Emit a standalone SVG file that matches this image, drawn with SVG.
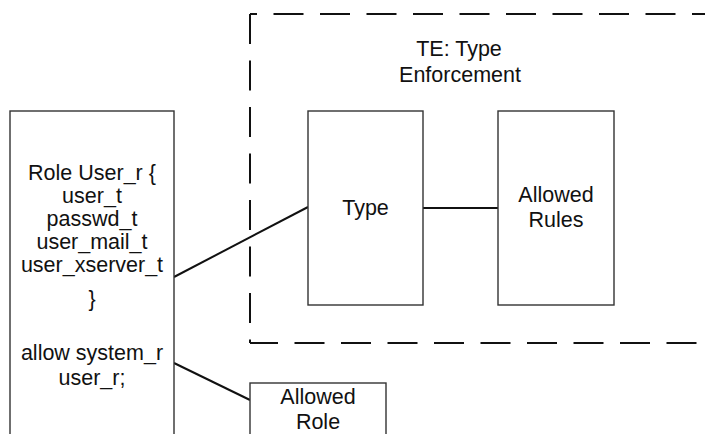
<svg xmlns="http://www.w3.org/2000/svg" width="705" height="434" viewBox="0 0 705 434">
<style>
.box{fill:#fff;stroke:#333;stroke-width:1.4}
.t{font-family:"Liberation Sans",Arial,sans-serif;font-size:21.5px;fill:#111;text-anchor:middle}
.dash{stroke:#111;stroke-width:2;fill:none;stroke-dasharray:30 16.5}
.conn{stroke:#111;stroke-width:2;fill:none}
</style>
<rect width="705" height="434" fill="#fff"/>
<g id="te-boundary">
<line class="dash" x1="250" y1="14" x2="705" y2="14" stroke-dashoffset="23"/>
<line class="dash" x1="250" y1="14" x2="250" y2="343"/>
<line class="dash" x1="250" y1="343" x2="705" y2="343" stroke-dashoffset="2"/>
<text class="t" x="459" y="56">TE: Type</text>
<text class="t" x="460" y="82">Enforcement</text>
</g>
<g id="connectors">
<line class="conn" x1="174" y1="277" x2="308" y2="207"/>
<line class="conn" x1="423" y1="208" x2="498" y2="208"/>
<line class="conn" x1="174" y1="363" x2="250" y2="400"/>
</g>
<g id="role-user">
<rect class="box" x="10" y="111" width="164" height="330"/>
<text class="t" x="92" y="180">Role User_r {</text>
<text class="t" x="92" y="203">user_t</text>
<text class="t" x="92" y="226">passwd_t</text>
<text class="t" x="92" y="249">user_mail_t</text>
<text class="t" x="92" y="272">user_xserver_t</text>
<text class="t" x="92" y="306">}</text>
<text class="t" x="92" y="360">allow system_r</text>
<text class="t" x="92" y="385">user_r;</text>
</g>
<g id="type">
<rect class="box" x="308" y="111" width="115" height="194"/>
<text class="t" x="365.5" y="215">Type</text>
</g>
<g id="allowed-rules">
<rect class="box" x="498" y="111" width="116" height="194"/>
<text class="t" x="556" y="202">Allowed</text>
<text class="t" x="556" y="227">Rules</text>
</g>
<g id="allowed-role">
<rect class="box" x="250" y="383" width="136" height="60"/>
<text class="t" x="318" y="404">Allowed</text>
<text class="t" x="318" y="429">Role</text>
</g>
</svg>
